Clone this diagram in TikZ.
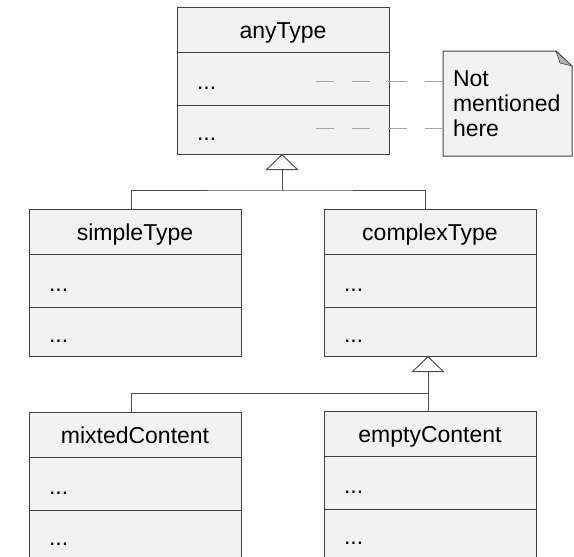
\documentclass[tikz,border=0pt]{standalone}
\usepackage{fontspec}
\setmainfont{Liberation Sans}
\usetikzlibrary{positioning,arrows.meta,backgrounds}

\definecolor{boxfill}{HTML}{F2F2F2}
\definecolor{boxline}{HTML}{404040}
\definecolor{linkgray}{HTML}{4D4D4D}
\definecolor{hiddengray}{HTML}{A6A6A6}

\begin{document}
\begin{tikzpicture}[x=1pt,y=-1pt,
    every node/.style={font=\fontsize{23}{25}\selectfont, outer sep=0pt},
    head/.style={draw=boxline, fill=boxfill, line width=1pt, anchor=north west,
        minimum width=212pt, minimum height=45pt, text height=17pt, text depth=0pt},
    row/.style={draw=boxline, fill=boxfill, line width=1pt, text width=172pt,
        inner xsep=20pt, align=left, text height=22pt, text depth=0pt},
    link/.style={draw=linkgray, line width=1pt},
    gen/.style={link, -{Triangle[open, length=16pt, width=33pt]}},
    hidden/.style={draw=hiddengray, line width=1pt, dash pattern=on 18.1pt off 18.1pt},
    notebox/.style={anchor=north west, minimum width=129pt, minimum height=105pt,
        text width=109pt, inner xsep=10pt, align=left}]
\useasboundingbox (0,0) rectangle (574,557);
\clip (0,0) rectangle (574,557);

% Draw the classes
\foreach \name/\title/\x/\y in {any/anyType/177/7, simple/simpleType/29/209,
    complex/complexType/324/209, mixted/mixtedContent/29/412, empty/emptyContent/324/411}{
    \node[head] (\name) at (\x,\y) {\title};
    \node[row, minimum height=53pt, below=0pt of \name] (\name-a) {...};
    \node[row, minimum height=49pt, below=0pt of \name-a] (\name-b) {...};
}

% Draw the note
\node[notebox] (note) at (443,51) {Not\\mentioned\\here};
\begin{scope}[on background layer]
\filldraw[draw=boxline, fill=boxfill, line width=1pt] (note.north west)
    -- ([xshift=-16pt]note.north east) -- ([yshift=-15pt]note.north east)
    -- (note.south east) -- (note.south west) -- cycle;
\filldraw[draw=boxline, fill=black!30, line width=0.6pt] ([xshift=-16pt]note.north east)
    -- ([yshift=-15pt]note.north east) -- ([xshift=-12pt,yshift=-12pt]note.north east) -- cycle;
\end{scope}
\coordinate (h1) at ([yshift=-2.5pt]any-a.east);
\coordinate (h2) at ([yshift=1.5pt]any-b.east);
\draw[hidden] ([xshift=-73pt]h1) -- (note.west |- h1);
\draw[hidden] ([xshift=-73pt]h2) -- (note.west |- h2);

% Draw the generalisations
\coordinate (j1) at ([xshift=-1pt,yshift=-36pt]any-b.south);
\draw[link] ([xshift=-4pt]simple.north) |- (j1) -| ([xshift=-5pt]complex.north);
\draw[gen] (j1) -- ([xshift=-1pt]any-b.south);

\coordinate (j2) at ([xshift=-2pt,yshift=-37pt]complex-b.south);
\draw[link] ([xshift=-4pt]mixted.north) |- (j2) -- (j2 |- empty.north);
\draw[gen] (j2) -- ([xshift=-2pt]complex-b.south);

\end{tikzpicture}
\end{document}
